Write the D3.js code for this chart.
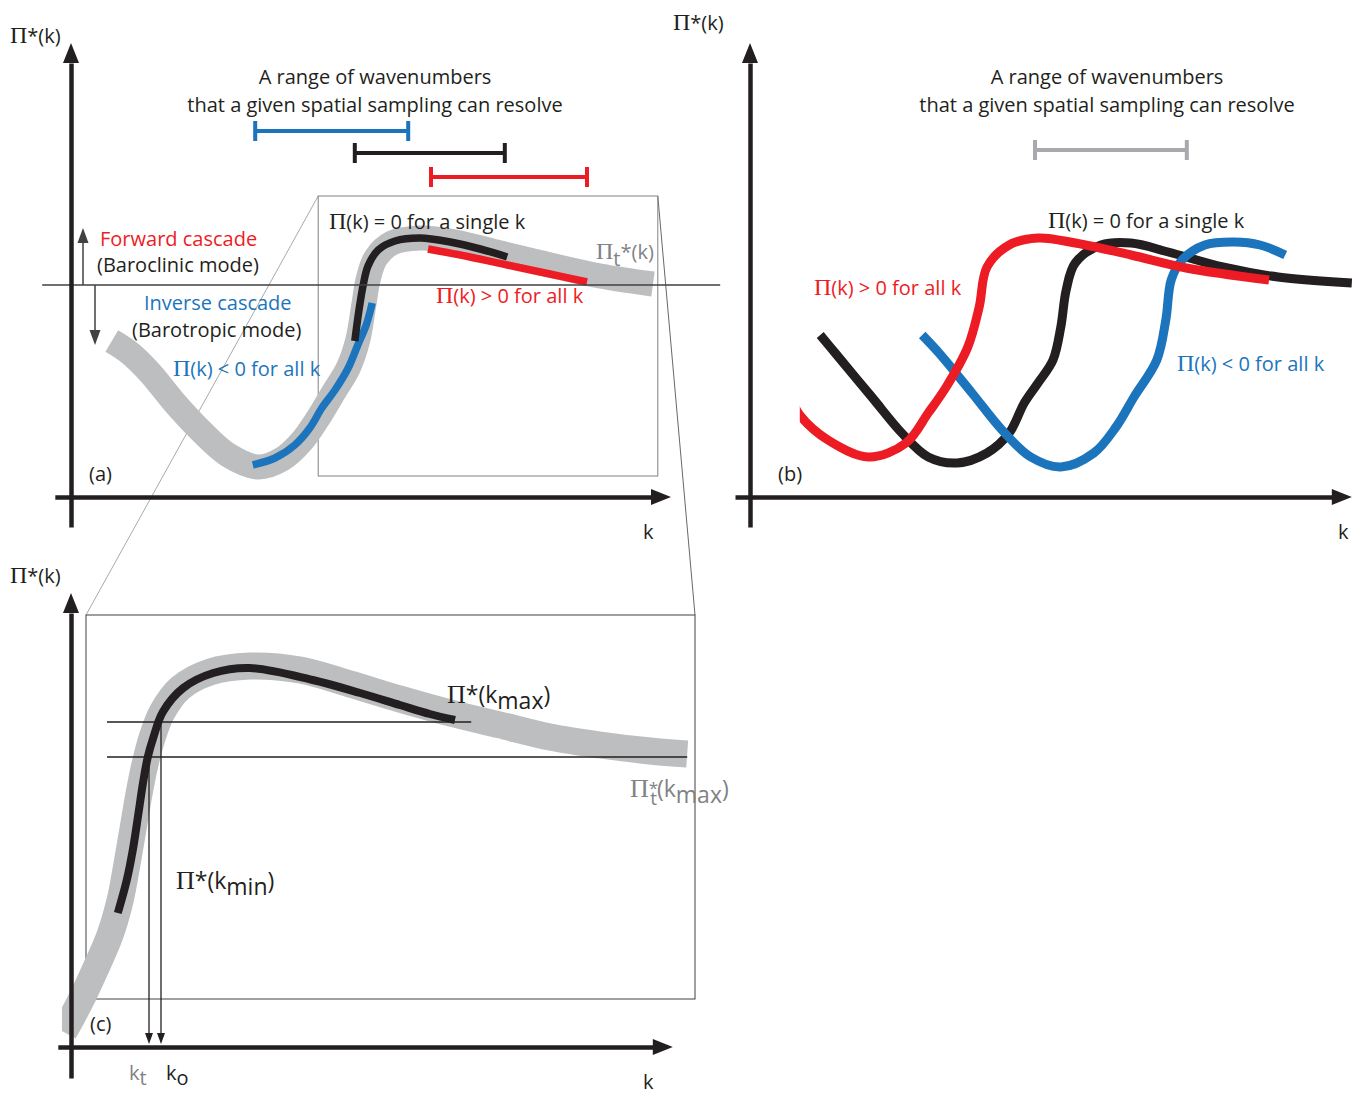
<!DOCTYPE html>
<html>
<head>
<meta charset="utf-8">
<script src="https://cdnjs.cloudflare.com/ajax/libs/d3/7.8.5/d3.min.js"></script>
<style>
body { margin: 0; background: #fff; }
text { font-family: "Open Sans", "Liberation Sans", sans-serif; font-size: 20px; }
.pi { font-family: "Liberation Serif", serif; font-size: 24px; }
</style>
</head>
<body>
<div id="chart"></div>
<script>
// ---- panel (a): [k, Pi*] points, Pi* = 0 on the horizontal line
var bandA = [[0.68,-0.56],[0.98,-0.68],[1.32,-0.88],[1.73,-1.18],[2.15,-1.45],[2.62,-1.70],
  [3.12,-1.82],[3.52,-1.74],[3.85,-1.56],[4.12,-1.33],[4.38,-1.07],[4.62,-0.83],[4.78,-0.55],
  [4.88,-0.20],[4.95,0.05],[5.08,0.27],[5.35,0.42],[5.82,0.47],[6.40,0.43],[7.15,0.32],
  [7.98,0.20],[8.82,0.09],[9.70,0.01]];
var inverseA = [[3.03,-1.80],[3.40,-1.73],[3.73,-1.60],[3.98,-1.43],[4.18,-1.23],[4.40,-1.05],
  [4.62,-0.83],[4.78,-0.60],[4.92,-0.40],[5.02,-0.18]];
var singleA = [[4.73,-0.56],[4.80,-0.25],[4.87,0.00],[4.95,0.19],[5.12,0.35],[5.40,0.44],
  [5.82,0.47],[6.32,0.43],[6.82,0.36],[7.27,0.28]];
var forwardA = [[5.95,0.36],[6.65,0.28],[7.27,0.20],[7.98,0.11],[8.60,0.03]];

// resolvable wavenumber ranges drawn above panel (a)
var rangeNames = ["inverse", "single", "forward"];
var rangeStart = [3.07, 4.73, 6.00];
var rangeEnd = [5.62, 7.23, 8.60];
var rangeLevel = [1.54, 1.32, 1.08];

// zoom window of panel (a) shown in panel (c): k0, k1, pi0, pi1
var zoomWindow = [4.12, 9.78, -1.91, 0.89];

// ---- panel (b)
var singleB = [[1.17,-0.50],[1.42,-0.68],[2.03,-1.12],[2.53,-1.48],[2.97,-1.72],[3.45,-1.78],
  [3.95,-1.68],[4.32,-1.48],[4.57,-1.18],[4.80,-0.98],[5.05,-0.75],[5.18,-0.42],[5.27,-0.05],
  [5.42,0.22],[5.85,0.40],[6.35,0.42],[6.97,0.33],[7.88,0.18],[8.80,0.08],[10.03,0.02]];
var forwardB = [[0.70,-1.15],[0.83,-1.30],[1.30,-1.55],[1.98,-1.72],[2.60,-1.58],[2.97,-1.28],
  [3.27,-1.02],[3.63,-0.62],[3.82,-0.22],[3.95,0.18],[4.32,0.40],[4.80,0.47],[5.42,0.42],
  [6.35,0.30],[7.27,0.17],[8.65,0.05]];
var inverseB = [[2.87,-0.50],[3.15,-0.68],[3.70,-1.08],[4.20,-1.45],[4.68,-1.72],[5.18,-1.82],
  [5.73,-1.68],[6.10,-1.42],[6.40,-1.12],[6.78,-0.75],[6.93,-0.35],[7.02,0.05],[7.20,0.25],
  [7.58,0.40],[8.07,0.43],[8.50,0.40],[8.92,0.30]];
var rangeB = [4.75, 7.28, 1.35];

// ---- panel (c)
var bandC = [[-0.12,-2.92],[0.15,-2.62],[0.40,-2.30],[0.65,-1.95],[0.82,-1.60],[0.93,-1.25],
  [1.03,-0.90],[1.13,-0.55],[1.23,-0.25],[1.35,0.02],[1.52,0.28],[1.82,0.52],[2.32,0.68],
  [2.98,0.74],[3.82,0.70],[4.65,0.56],[5.48,0.41],[6.32,0.27],[7.15,0.15],[7.98,0.03],
  [8.82,-0.05],[9.65,-0.11],[10.27,-0.14]];
var curveC = [[0.78,-1.73],[0.93,-1.40],[1.03,-1.10],[1.12,-0.75],[1.20,-0.43],[1.28,-0.17],
  [1.37,0.02],[1.53,0.28],[1.87,0.52],[2.37,0.67],[2.98,0.72],[4.03,0.60],[4.82,0.47],
  [5.48,0.35],[5.98,0.26],[6.40,0.20]];
var levelNames = ["kmax", "tmax"];
var levelValue = [0.18, -0.17];
var levelEnd = [6.67, 10.27];
var levelK = [1.50, 1.30];

var red = "#ed1c24", blue = "#1c75bc", black = "#231f20", band = "#bcbec0";
var dark = "#414042", grayText = "#808285";
var rangeColor = {inverse: blue, single: black, forward: red};

var svgWidth = 1356;
var svgHeight = 1096;

var svg = d3.select("#chart")
  .append("svg")
  .attr("width", svgWidth)
  .attr("height", svgHeight);

var xA = d3.scaleLinear().domain([0, 10]).range([71, 671]);
var yA = d3.scaleLinear().domain([-2.12, 2.4]).range([497, 45]);
var xB = d3.scaleLinear().domain([0, 10]).range([750, 1350]);
var yB = yA.copy();
var xC = d3.scaleLinear().domain([0, 10]).range([71, 671]);
var yC = d3.scaleLinear().domain([-3.07, 1.43]).range([1047, 597]);

function lineFor(x, y) {
  return d3.line()
    .x(d => x(d[0]))
    .y(d => y(d[1]))
    .curve(d3.curveCatmullRom.alpha(0.5));
}

function drawCurve(g, data, x, y, color, width) {
  g.append("path")
    .datum(data)
    .attr("d", lineFor(x, y))
    .attr("fill", "none")
    .attr("stroke", color)
    .attr("stroke-width", width)
    .attr("stroke-linecap", "butt")
    .attr("stroke-linejoin", "round");
}

// axes with arrow heads; domain path of d3 axis with no ticks
function drawAxes(x, y, kFrom, kTip, piFrom, piTip, k0, pi0) {
  var head = 20, half = 8;
  var xEnd = x(kTip) - head;
  var xs = d3.scaleLinear().domain([kFrom, x.invert(xEnd)]).range([x(kFrom), xEnd]);
  var gx = svg.append("g")
    .attr("transform", `translate(0, ${y(pi0)})`)
    .call(d3.axisBottom(xs).tickValues([]).tickSizeOuter(0));
  gx.select(".domain").attr("stroke", black).attr("stroke-width", 4.5);
  svg.append("path")
    .attr("d", `M${xEnd},${y(pi0) - half}L${x(kTip)},${y(pi0)}L${xEnd},${y(pi0) + half}Z`)
    .attr("fill", black);

  var yEnd = y(piTip) + head;
  var ys = d3.scaleLinear().domain([piFrom, y.invert(yEnd)]).range([y(piFrom), yEnd]);
  var gy = svg.append("g")
    .attr("transform", `translate(${x(k0)}, 0)`)
    .call(d3.axisLeft(ys).tickValues([]).tickSizeOuter(0));
  gy.select(".domain").attr("stroke", black).attr("stroke-width", 4.5);
  svg.append("path")
    .attr("d", `M${x(k0) - half},${yEnd}L${x(k0)},${y(piTip)}L${x(k0) + half},${yEnd}Z`)
    .attr("fill", black);
}

function addText(px, py, pieces, fill, anchor) {
  var t = svg.append("text")
    .attr("x", px)
    .attr("y", py)
    .attr("fill", fill || black)
    .attr("text-anchor", anchor || "start");
  pieces.forEach(function(p) {
    var s = t.append("tspan").text(p.t);
    if (p.pi) s.attr("class", "pi");
    if (p.dx) s.attr("dx", p.dx);
    if (p.dy) s.attr("dy", p.dy);
    if (p.size) s.style("font-size", p.size + "px");
  });
  return t;
}

function rangeBar(x0, x1, yy, color) {
  var g = svg.append("g").attr("stroke", color).attr("stroke-width", 4);
  g.append("line").attr("x1", x0).attr("x2", x1).attr("y1", yy).attr("y2", yy);
  g.append("line").attr("x1", x0).attr("x2", x0).attr("y1", yy - 10).attr("y2", yy + 10);
  g.append("line").attr("x1", x1).attr("x2", x1).attr("y1", yy - 10).attr("y2", yy + 10);
}

var defs = svg.append("defs");
defs.append("clipPath").attr("id", "clipB")
  .append("rect").attr("x", xB(0.83)).attr("y", 0).attr("width", 600).attr("height", 600);
defs.append("clipPath").attr("id", "clipC")
  .append("rect").attr("x", 62).attr("y", 560).attr("width", 700).attr("height", 500);

// ================= panel (a)
// zoom window and connector lines to panel (c)
var frameC = {x0: xC(0.25), x1: xC(10.4), y0: yC(1.25), y1: yC(-2.59)};
svg.append("line")
  .attr("x1", xA(zoomWindow[0])).attr("y1", yA(zoomWindow[3]))
  .attr("x2", frameC.x0).attr("y2", frameC.y0)
  .attr("stroke", "#a7a9ac").attr("stroke-width", 1);
svg.append("line")
  .attr("x1", xA(zoomWindow[1])).attr("y1", yA(zoomWindow[3]))
  .attr("x2", frameC.x1).attr("y2", frameC.y0)
  .attr("stroke", dark).attr("stroke-width", 0.8);
svg.append("rect")
  .attr("x", xA(zoomWindow[0]))
  .attr("y", yA(zoomWindow[3]))
  .attr("width", xA(zoomWindow[1]) - xA(zoomWindow[0]))
  .attr("height", yA(zoomWindow[2]) - yA(zoomWindow[3]))
  .attr("fill", "none")
  .attr("stroke", grayText)
  .attr("stroke-width", 1);

var gA = svg.append("g");
drawCurve(gA, bandA, xA, yA, band, 25);
drawCurve(gA, inverseA, xA, yA, blue, 7.5);
drawCurve(gA, singleA, xA, yA, black, 7.5);
drawCurve(gA, forwardA, xA, yA, red, 7.5);

// zero line
svg.append("line")
  .attr("x1", xA(-0.48)).attr("x2", xA(10.82))
  .attr("y1", yA(0)).attr("y2", yA(0))
  .attr("stroke", dark).attr("stroke-width", 1.5);

// cascade direction arrows
function smallArrow(k, piTo) {
  var x = xA(k), y0 = yA(0), y1 = yA(piTo), dir = y1 < y0 ? 1 : -1;
  svg.append("line").attr("x1", x).attr("x2", x).attr("y1", y0).attr("y2", y1 + dir * 12)
    .attr("stroke", dark).attr("stroke-width", 1.5);
  svg.append("path")
    .attr("d", `M${x - 5.5},${y1 + dir * 15}L${x},${y1}L${x + 5.5},${y1 + dir * 15}Z`)
    .attr("fill", dark);
}
smallArrow(0.2, 0.57);
smallArrow(0.4, -0.60);

drawAxes(xA, yA, -0.27, 10, -2.42, 2.42, 0, -2.12);

rangeNames.forEach(function(n, i) {
  rangeBar(xA(rangeStart[i]), xA(rangeEnd[i]), yA(rangeLevel[i]), rangeColor[n]);
});

addText(10, 43, [{t: "Π", pi: true}, {t: "*(k)"}]);
addText(643, 539, [{t: "k"}]);
addText(89, 481, [{t: "(a)"}], black);
addText(375, 84, [{t: "A range of wavenumbers"}], black, "middle");
addText(375, 112, [{t: "that a given spatial sampling can resolve"}], black, "middle");
addText(100, 246, [{t: "Forward cascade"}], red);
addText(97, 272, [{t: "(Baroclinic mode)"}], black);
addText(144, 310, [{t: "Inverse cascade"}], blue);
addText(132, 337, [{t: "(Barotropic mode)"}], black);
addText(173, 376, [{t: "Π", pi: true}, {t: "(k) < 0 for all k"}], blue);
addText(329, 229, [{t: "Π", pi: true}, {t: "(k) = 0 for a single k"}], black);
addText(596, 259, [{t: "Π", pi: true}, {t: "t", dy: 7}, {t: "*(k)", dy: -7}], grayText);
addText(436, 303, [{t: "Π", pi: true}, {t: "(k) > 0 for all k"}], red);

// ================= panel (b)
var gB = svg.append("g").attr("clip-path", "url(#clipB)");
drawCurve(gB, singleB, xB, yB, black, 9);
drawCurve(gB, inverseB, xB, yB, blue, 9);
drawCurve(gB, forwardB, xB, yB, red, 9);

drawAxes(xB, yB, -0.25, 10.03, -2.42, 2.42, 0, -2.12);
rangeBar(xB(rangeB[0]), xB(rangeB[1]), yB(rangeB[2]), "#a7a9ac");

addText(673, 30, [{t: "Π", pi: true}, {t: "*(k)"}]);
addText(1338, 539, [{t: "k"}]);
addText(778, 481, [{t: "(b)"}], black);
addText(1107, 84, [{t: "A range of wavenumbers"}], black, "middle");
addText(1107, 112, [{t: "that a given spatial sampling can resolve"}], black, "middle");
addText(1048, 228, [{t: "Π", pi: true}, {t: "(k) = 0 for a single k"}], black);
addText(814, 295, [{t: "Π", pi: true}, {t: "(k) > 0 for all k"}], red);
addText(1177, 371, [{t: "Π", pi: true}, {t: "(k) < 0 for all k"}], blue);

// ================= panel (c)
svg.append("rect")
  .attr("x", frameC.x0).attr("y", frameC.y0)
  .attr("width", frameC.x1 - frameC.x0)
  .attr("height", frameC.y1 - frameC.y0)
  .attr("fill", "none")
  .attr("stroke", dark)
  .attr("stroke-width", 1);

var gC = svg.append("g").attr("clip-path", "url(#clipC)");
drawCurve(gC, bandC, xC, yC, band, 27);
drawCurve(gC, curveC, xC, yC, black, 8);

levelNames.forEach(function(n, i) {
  svg.append("line")
    .attr("x1", xC(0.6)).attr("x2", xC(levelEnd[i]))
    .attr("y1", yC(levelValue[i])).attr("y2", yC(levelValue[i]))
    .attr("stroke", black).attr("stroke-width", 1.3);
  var x = xC(levelK[i]), yTop = yC(levelValue[i]), yBot = yC(-3.07) - 3;
  svg.append("line").attr("x1", x).attr("x2", x).attr("y1", yTop).attr("y2", yBot - 8)
    .attr("stroke", black).attr("stroke-width", 1.3);
  svg.append("path")
    .attr("d", `M${x - 4},${yBot - 11}L${x},${yBot}L${x + 4},${yBot - 11}Z`)
    .attr("fill", black);
});

drawAxes(xC, yC, -0.22, 10.03, -3.38, 1.47, 0, -3.07);

addText(10, 583, [{t: "Π", pi: true}, {t: "*(k)"}]);
addText(643, 1089, [{t: "k"}]);
addText(90, 1031, [{t: "(c)"}], black);
addText(447, 703, [{t: "Π", pi: true, size: 26}, {t: "*(k"}, {t: "max", dy: 6}, {t: ")", dy: -6}], black).style("font-size", "23px");
addText(176, 889, [{t: "Π", pi: true, size: 26}, {t: "*(k"}, {t: "min", dy: 6}, {t: ")", dy: -6}], black).style("font-size", "23px");
addText(630, 797, [{t: "Π", pi: true, size: 26}, {t: "*", dy: -3, size: 17}, {t: "t", dx: -8, dy: 11, size: 19},
  {t: "(k", dy: -8}, {t: "max", dy: 6}, {t: ")", dy: -6}], grayText).style("font-size", "23px");
addText(129, 1080, [{t: "k"}, {t: "t", dy: 5}], grayText);
addText(166, 1080, [{t: "k"}, {t: "o", dy: 5}], black);
</script>
</body>
</html>
